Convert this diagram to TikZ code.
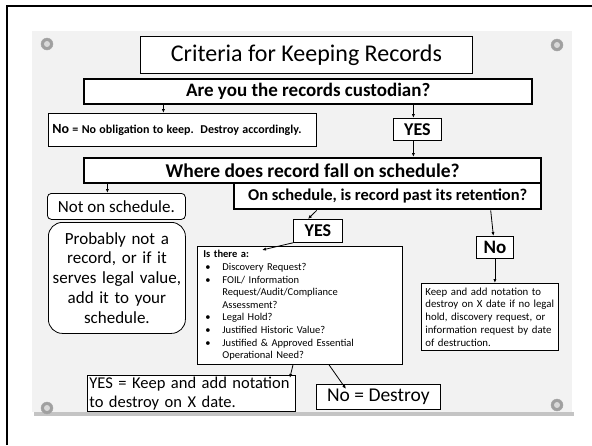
\documentclass[tikz,border=0pt]{standalone}
\usepackage{fontspec}
\setmainfont{Carlito}
\usetikzlibrary{positioning, arrows.meta, calc}

\definecolor{panelGray} {HTML}{F2F2F2}
\definecolor{shadeGray} {HTML}{C4C4C4}
\definecolor{rivetGray} {HTML}{A0A0A0}

\newcommand{\fsz}[2]{\fontsize{#1}{#2}\selectfont}
\newcommand{\bul}{\hspace*{2pt}\makebox[17pt][l]{\textbullet}}
\newcommand{\cont}{\hspace*{19pt}}

\tikzset{
  plainbox/.style={draw, line width=0.8pt, fill=white, inner sep=0pt, anchor=north west},
  heavybox/.style={draw, line width=2.4pt, fill=white, inner sep=0pt, anchor=north west},
  softbox/.style={draw, line width=0.8pt, fill=white, inner sep=0pt, anchor=north west,
                  rounded corners=#1},
  link/.style={line width=0.8pt, -{Latex[length=4pt,width=3.2pt]}},
}

\begin{document}
\begin{tikzpicture}[x=1pt, y=-1pt]
  \useasboundingbox (0,0) rectangle (592,445);
  \fill[white] (0,0) rectangle (592,445);
  % slide frame and panel
  \draw[line width=2.5pt] (7,445) -- (7,6) -- (592,6);
  \fill[shadeGray] (34,412) rectangle (574,416);
  \fill[panelGray] (32,31) rectangle (572,412);
  \foreach \rx/\ry in {47/44, 557/45, 47/408, 557/405} {
    \fill[rivetGray] (\rx,\ry) circle (6pt);
    \fill[gray!30] (\rx,\ry) circle (3pt);
    \draw[gray!70, line width=0.4pt] (\rx,\ry) circle (6pt);
  }

  % boxes
  \node[plainbox, minimum width=332pt, minimum height=37pt, font=\fsz{24}{28}]
        (title) at (140,36) {Criteria for Keeping Records};
  \node[heavybox, minimum width=448pt, minimum height=25pt, font=\bfseries\fsz{19}{22}]
        (cust) at (83,78) {Are you the records custodian?};
  \node[plainbox, minimum height=33pt, text width=260pt, inner xsep=4pt, align=left]
        (nobox) at (48,113)
        {{\fsz{14}{16}\textbf{No}} {\fsz{12}{14}\textbf{= No obligation to keep.\ \ Destroy accordingly.}}};
  \node[plainbox, minimum width=48pt, minimum height=22pt, font=\bfseries\fsz{18}{20}]
        (yes1) at (393,118) {YES};
  \node[heavybox, minimum width=457pt, minimum height=25pt, font=\bfseries\fsz{19.5}{22}]
        (where) at (83,157) {Where does record fall on schedule?};
  \node[heavybox, minimum width=307pt, minimum height=26pt, font=\bfseries\fsz{16.5}{19}]
        (onsched) at (233,182) {On schedule, is record past its retention?};
  \node[softbox=4pt, minimum width=138pt, minimum height=26pt, font=\fsz{17}{20}]
        (notsched) at (47,193) {Not on schedule.};
  \node[softbox=14pt, minimum width=137pt, minimum height=111pt, text width=135pt,
        align=center, font=\fsz{17}{19.8}]
        (probably) at (48,222)
        {Probably not a\\record, or if it\\serves legal value,\\add it to your\\schedule.};
  \node[plainbox, minimum width=49pt, minimum height=23pt, font=\bfseries\fsz{18}{20}]
        (yes2) at (293,219) {YES};
  \node[plainbox, minimum height=118pt, text width=193pt, inner xsep=6pt,
        align=left, font=\fsz{10.5}{12.6}]
        (query) at (197,246)
        {\textbf{Is there a:}\\
         \bul Discovery Request?\\
         \bul FOIL/ Information\\
         \cont Request/Audit/Compliance\\
         \cont Assessment?\\
         \bul Legal Hold?\\
         \bul Justified Historic Value?\\
         \bul Justified \& Approved Essential\\
         \cont Operational Need?};
  \node[plainbox, minimum width=37pt, minimum height=22pt, font=\bfseries\fsz{19}{21}]
        (no2) at (476,236) {No};
  \node[plainbox, minimum height=67pt, text width=129pt, inner xsep=4pt,
        align=left, font=\fsz{10.8}{12.7}]
        (keep) at (421,283)
        {Keep and add notation to\\destroy on X date if no legal\\hold, discovery request, or\\information request by date\\of destruction.};
  \node[plainbox, minimum height=36pt, text width=204pt, inner xsep=2pt,
        align=left, font=\fsz{16.5}{19}]
        (yeskeep) at (87,375) {YES = Keep and add notation\\to destroy on X date.};
  \node[plainbox, minimum width=124pt, minimum height=25pt, font=\fsz{19.5}{21}]
        (destroy) at (316,384) {No = Destroy};

  % connectors
  \draw[link] ([xshift=-19pt]nobox.north |- cust.south) -- ([xshift=-19pt]nobox.north);
  \draw[link] ([xshift=-4pt]yes1.north |- cust.south) -- ([xshift=-4pt]yes1.north);
  \draw[link] ([xshift=-4pt]yes1.south) -- ([xshift=-4pt]yes1.south |- where.north);
  \draw[link] ([xshift=-9pt]notsched.north |- where.south) -- ([xshift=-9pt]notsched.north);
  \draw[link] ([xshift=-71pt]onsched.south) -- ([xshift=-10pt]yes2.north);
  \draw[link] ([xshift=103pt]onsched.south) -- ([xshift=-1.5pt]no2.north);
  \draw[link] (no2.south) -- (no2.south |- keep.north);
  \draw[link] (yes2.south west) -- ([xshift=65pt,yshift=-4pt]query.north west);
  \draw[link] ([xshift=96pt]query.south west) -- ([xshift=-6pt,yshift=-3pt]yeskeep.north east);
  \draw[link] ([xshift=132pt]query.south west) -- ([xshift=30pt,yshift=-5pt]destroy.north west);
\end{tikzpicture}
\end{document}
